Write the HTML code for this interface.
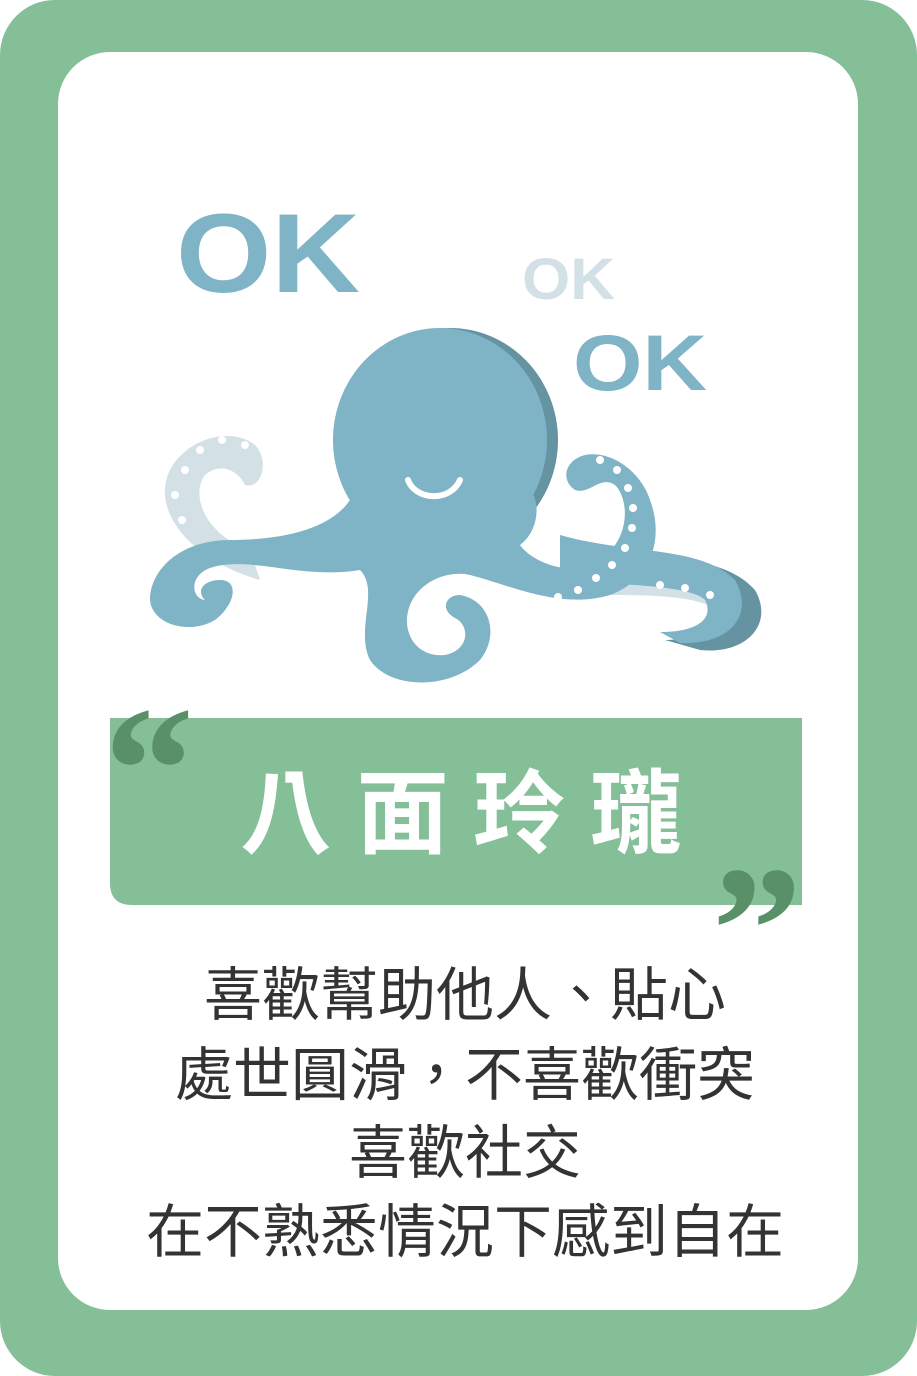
<!DOCTYPE html>
<html><head><meta charset="utf-8"><style>
html,body{margin:0;padding:0;width:917px;height:1376px;overflow:hidden;background:#fff}
svg{display:block}
</style></head><body>
<svg width="917" height="1376" viewBox="0 0 917 1376" xmlns="http://www.w3.org/2000/svg">
<rect x="0" y="0" width="917" height="1376" rx="55" fill="#84bf98"/>
<rect x="58" y="52" width="800" height="1258" rx="52" fill="#ffffff"/>

<g font-family="'Liberation Sans',sans-serif" font-weight="bold">
<text x="176" y="292" font-size="112" fill="#7fb3c6" textLength="184" lengthAdjust="spacingAndGlyphs">OK</text>
<text x="522" y="299" font-size="58" fill="#d3e1e6" textLength="93" lengthAdjust="spacingAndGlyphs">OK</text>
<text x="573" y="390" font-size="79" fill="#7fb3c6" textLength="134" lengthAdjust="spacingAndGlyphs">OK</text>
</g>

<g>
  <path d="M260,580 C190,560 150,510 170,470 C185,440 230,425 255,445 C270,460 262,490 245,485 C238,470 220,462 205,475 C190,495 205,535 250,550 Z" fill="#d3e1e6"/>
  <path d="M600,575 C660,575 720,580 740,600 C745,610 735,615 720,612 C700,595 650,595 600,595 Z" fill="#d3e1e6"/>
  <path d="M560,540 C640,560 720,550 755,590 C775,625 745,655 700,650 L665,640 C700,640 735,625 720,600 C700,580 620,580 560,575 Z" fill="#6593a2"/>
  <path d="M560,535 C630,555 700,545 735,580 C755,615 730,645 680,643 L660,632 C695,632 715,620 705,600 C690,585 620,585 560,580 Z" fill="#7fb3c6"/>
  <ellipse cx="450" cy="440" rx="108" ry="112" fill="#6593a2"/>
  <ellipse cx="440" cy="440" rx="107" ry="112" fill="#7fb3c6"/>
  <path d="M350,500 C330,530 280,540 230,540 C180,540 150,570 150,600 C152,625 190,635 215,620 C235,605 240,580 220,580 C205,580 195,590 205,600 C190,598 190,575 210,568 C250,555 300,580 360,570 C380,590 355,630 370,660 C390,690 450,690 480,660 C500,635 490,600 460,595 C445,595 440,610 455,618 C470,625 470,650 445,655 C415,658 400,630 410,605 C420,580 450,570 470,575 C510,585 560,610 610,595 C650,580 665,540 650,500 C640,470 610,450 585,455 C565,460 560,480 575,490 C590,495 600,475 615,485 C630,500 630,540 600,560 C570,580 530,560 520,545 C540,530 540,500 530,490 Z" fill="#7fb3c6"/>
  <g fill="#ffffff">
    <circle cx="600" cy="460" r="4"/><circle cx="617" cy="470" r="4"/><circle cx="628" cy="488" r="4"/><circle cx="633" cy="508" r="4"/><circle cx="632" cy="528" r="4"/><circle cx="625" cy="548" r="4"/><circle cx="612" cy="565" r="4"/><circle cx="596" cy="578" r="4"/><circle cx="578" cy="590" r="4"/><circle cx="558" cy="597" r="4"/><circle cx="538" cy="600" r="4"/>
    <circle cx="185" cy="470" r="4"/><circle cx="200" cy="450" r="4"/><circle cx="222" cy="440" r="4"/><circle cx="245" cy="445" r="4"/><circle cx="175" cy="495" r="4"/><circle cx="182" cy="520" r="4"/>
    <circle cx="660" cy="585" r="4"/><circle cx="685" cy="588" r="4"/><circle cx="710" cy="595" r="4"/>
  </g>
  <path d="M408,480 C415,500 450,503 460,480" stroke="#fff" stroke-width="6" fill="none" stroke-linecap="round"/>
</g>

<path d="M110,718 L802,718 L802,905 L132,905 Q110,905 110,883 Z" fill="#84bf98"/>
<g font-family="'Liberation Serif',serif" font-weight="bold" fill="#5a9068">
<text x="104" y="830" font-size="180">“</text>
<text x="712" y="990" font-size="180">”</text>
</g>
<text x="240" y="846" font-family="'Liberation Sans','Noto Sans CJK TC',sans-serif" font-weight="bold" font-size="92" textLength="442" lengthAdjust="spacing" fill="#ffffff">八面玲瓏</text>

<g font-family="'Liberation Sans','Noto Sans CJK TC',sans-serif" font-size="58" fill="#333333" text-anchor="middle">
<text x="465" y="1015">喜歡幫助他人、貼心</text>
<text x="465" y="1095">處世圓滑，不喜歡衝突</text>
<text x="465" y="1173">喜歡社交</text>
<text x="465" y="1252">在不熟悉情況下感到自在</text>
</g>
</svg>
</body></html>
